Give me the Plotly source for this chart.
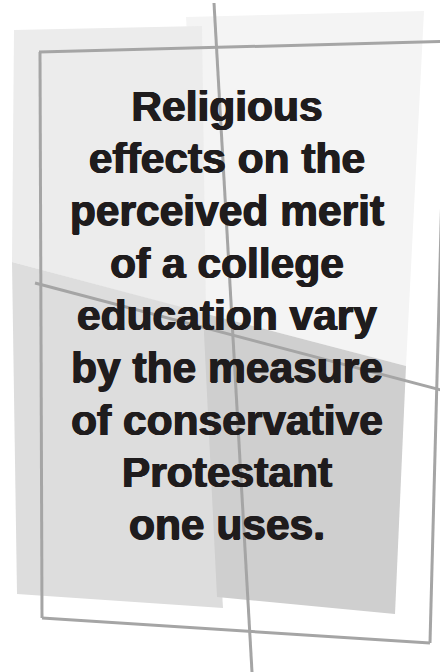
import plotly.graph_objects as go

# Text content of the pull quote
quote_lines = [
    "Religious",
    "effects on the",
    "perceived merit",
    "of a college",
    "education vary",
    "by the measure",
    "of conservative",
    "Protestant",
    "one uses.",
]

# Decorative geometry (pixel space, y downwards)
panels = [
    # (vertices, fill colour) drawn in order
    ([(186, 17), (424, 11), (406, 366), (203, 313)], "#f4f4f4"),
    ([(14, 30), (202, 26), (206, 314), (12, 262)], "#ececec"),
    ([(12, 262), (206, 313.5), (223, 608), (17, 594)], "#dddddd"),
    ([(203, 313), (406, 366), (395, 614), (217, 597)], "#cfcfcf"),
]
frame_lines = [
    [(39, 52), (460, 41)],
    [(40, 52), (42, 618)],
    [(42, 618), (430, 643)],
    [(430, 643), (447, 0)],
    [(214, 3), (252, 672)],
    [(35, 283), (460, 395)],
]
line_color = "#a5a5a5"

W, H = 440, 672
text_x = 227
first_baseline = 125
line_step = 52.3
font_size = 42.5
ink = "#1f1c1d"

fig = go.Figure()

shapes = []
for verts, col in panels:
    path = "M " + " L ".join(f"{x},{y}" for x, y in verts) + " Z"
    shapes.append(dict(type="path", path=path, xref="x", yref="y",
                       fillcolor=col, line=dict(width=0), layer="below"))
for (x0, y0), (x1, y1) in frame_lines:
    shapes.append(dict(type="line", x0=x0, y0=y0, x1=x1, y1=y1, xref="x", yref="y",
                       line=dict(color=line_color, width=3), layer="below"))

# baseline -> middle-anchored point (plotly places baseline at y + 0.35em)
ys = [first_baseline + i * line_step - 0.35 * font_size for i in range(len(quote_lines))]
fig.add_trace(go.Scatter(
    x=[text_x] * len(quote_lines), y=ys, text=quote_lines,
    mode="text", textposition="middle center",
    textfont=dict(family="Liberation Sans, Arial, sans-serif", size=font_size,
                  color=ink, weight="bold",
                  shadow=f"0.7px 0 0 {ink}, -0.7px 0 0 {ink}, 0 0.4px 0 {ink}"),
    hoverinfo="skip", showlegend=False,
))

fig.update_layout(
    width=W, height=H, margin=dict(l=0, r=0, t=0, b=0),
    paper_bgcolor="white", plot_bgcolor="white",
    shapes=shapes,
    xaxis=dict(range=[0, W], visible=False, fixedrange=True),
    yaxis=dict(range=[H, 0], visible=False, fixedrange=True),
    showlegend=False,
)

fig.write_html("out.html", config={"displayModeBar": False},
               post_script="document.body.style.margin='0';")
